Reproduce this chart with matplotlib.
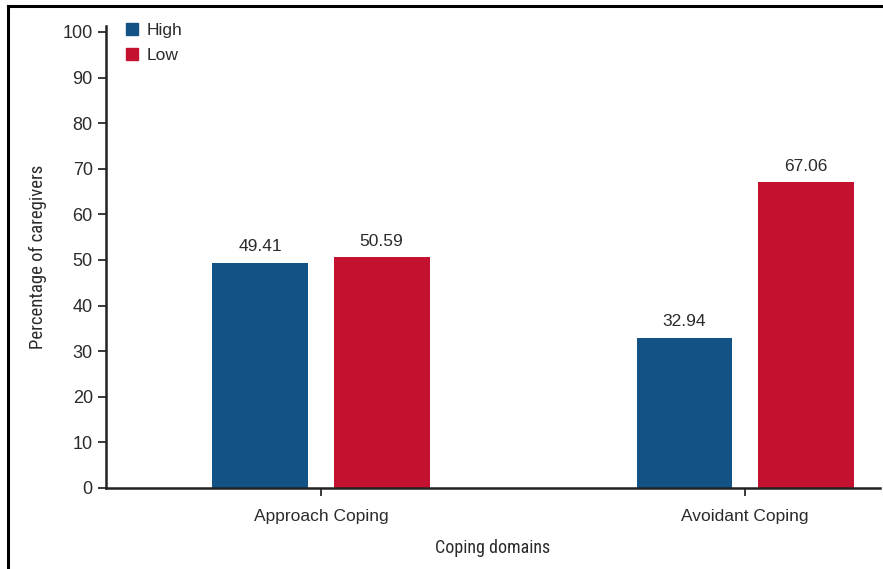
import matplotlib
matplotlib.use('Agg')
import matplotlib.pyplot as plt
from matplotlib.patches import Patch
from matplotlib.lines import Line2D
from matplotlib import font_manager
import numpy as np

# coping domain share of caregivers, by level
domains = ['Approach Coping', 'Avoidant Coping']
high = [49.41, 32.94]
low = [50.59, 67.06]
series_names = ['High', 'Low']
yticks = [0, 10, 20, 30, 40, 50, 60, 70, 80, 90, 100]

C_HIGH = '#135284'
C_LOW = '#c3112f'
TXT = '#2b2b2b'

plt.rcParams['font.family'] = ['Liberation Sans', 'DejaVu Sans']

# narrow face for axis titles, if one is around
names = {f.name for f in font_manager.fontManager.ttflist}
narrow = [n for n in ('Liberation Sans Narrow', 'Roboto Condensed',
                      'Open Sans Condensed', 'DejaVu Sans Condensed') if n in names]
cond = dict(family=(narrow[:1] or ['DejaVu Sans']), stretch='condensed')

fig = plt.figure(figsize=(8.83, 5.69), dpi=100)
ax = fig.add_axes([0.120, 0.1424, 0.8766, 0.8119])

x = np.arange(len(domains))
wd = 0.226
off = 0.143
b1 = ax.bar(x - off, high, wd, color=C_HIGH)
b2 = ax.bar(x + off, low, wd, color=C_LOW)
for bars, vals in ((b1, high), (b2, low)):
    for r, v in zip(bars, vals):
        ax.annotate(f'{v:.2f}', (r.get_x() + r.get_width() / 2, v),
                    xytext=(0, 6), textcoords='offset points',
                    ha='center', va='bottom', fontsize=12.5, color=TXT)

ax.set_xlim(-0.507, 1.318)
ax.set_ylim(0, 101.3)
ax.set_yticks(yticks)
ax.set_xticks(x)
ax.set_xticklabels(domains)
ax.tick_params(axis='both', labelsize=13, colors=TXT, length=6, width=1.3)
ax.tick_params(axis='x', labelsize=12.5, pad=9)
for s in ('top', 'right'):
    ax.spines[s].set_visible(False)
for s in ('left', 'bottom'):
    ax.spines[s].set_linewidth(1.8)
    ax.spines[s].set_color('#222222')

ax.set_ylabel('Percentage of caregivers', fontsize=13.5, color=TXT,
              labelpad=11, **cond)
ax.set_xlabel('Coping domains', fontsize=13, color=TXT, labelpad=11, **cond)

handles = [Patch(color=C_HIGH), Patch(color=C_LOW)]
ax.legend(handles, series_names, loc='upper left', bbox_to_anchor=(0.006, 1.04),
          frameon=False, fontsize=12.5, handlelength=0.7, handleheight=0.7,
          handletextpad=0.45, labelspacing=0.55, labelcolor=TXT)

# figure frame on the top and left edges
fig.add_artist(Line2D([0.0095, 1.0], [0.99, 0.99], color='black', lw=2.2,
                      transform=fig.transFigure))
fig.add_artist(Line2D([0.0095, 0.0095], [0.0, 0.99], color='black', lw=2.2,
                      transform=fig.transFigure))

fig.savefig('out.png', dpi=100)
